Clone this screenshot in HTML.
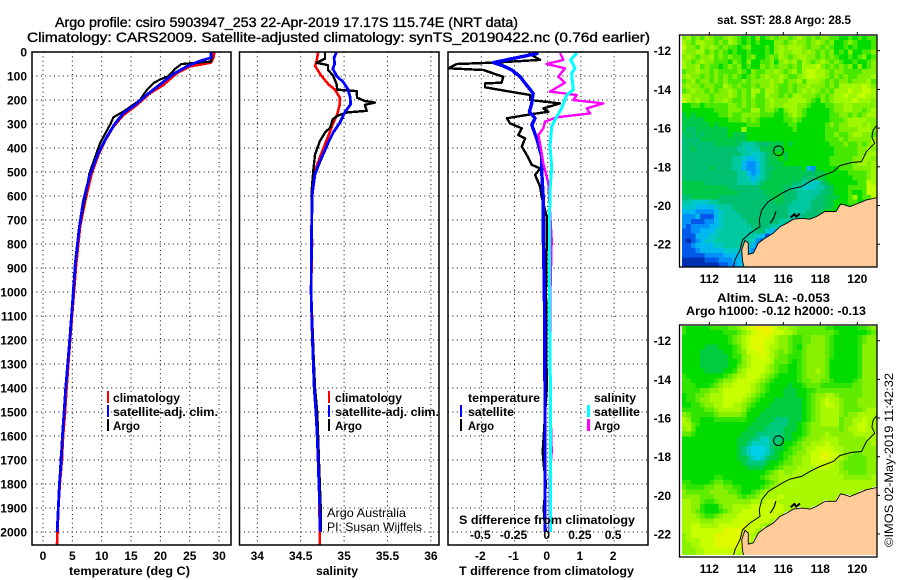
<!DOCTYPE html>
<html>
<head>
<meta charset="utf-8">
<title>Argo profile csiro 5903947_253</title>
<style>
html,body{margin:0;padding:0;background:#fff;}
svg{display:block;}
text{font-family:"Liberation Sans",sans-serif;fill:#000;}
.b{font-weight:bold;font-size:12px;}
.r{font-size:12px;}
.t{font-size:14px;stroke:#000;stroke-width:.35;}
</style>
</head>
<body>
<svg id="chart" xmlns="http://www.w3.org/2000/svg" width="900" height="580" viewBox="0 0 900 580">
  <rect width="900" height="580" fill="#fff"/>
  <defs>
    <clipPath id="clip-sst"><rect x="682" y="36" width="195" height="231"/></clipPath>
    <clipPath id="clip-sla"><rect x="682" y="326" width="195" height="229"/></clipPath>
    <clipPath id="clip-t"><rect x="32" y="52" width="199" height="493"/></clipPath>
    <clipPath id="clip-s"><rect x="239.5" y="52" width="199.5" height="493"/></clipPath>
    <clipPath id="clip-d"><rect x="448" y="52" width="200" height="493"/></clipPath>
  </defs>

  <text class="t" x="55" y="27" textLength="463" lengthAdjust="spacingAndGlyphs">Argo profile: csiro 5903947_253 22-Apr-2019 17.17S 115.74E (NRT data)</text>
  <text class="t" x="27" y="42" textLength="623" lengthAdjust="spacingAndGlyphs">Climatology: CARS2009. Satellite-adjusted climatology: synTS_20190422.nc (0.76d earlier)</text>

  <g id="grid-layer"></g>
  <g id="series-t" clip-path="url(#clip-t)"></g>
  <g id="series-s" clip-path="url(#clip-s)"></g>
  <g id="series-d" clip-path="url(#clip-d)"></g>
  <g id="ticks-layer"></g>

  <rect x="32" y="52" width="199" height="493" fill="none" stroke="#000" stroke-width="1.5"/>
  <rect x="239.5" y="52" width="199.5" height="493" fill="none" stroke="#000" stroke-width="1.5"/>
  <rect x="448" y="52" width="200" height="493" fill="none" stroke="#000" stroke-width="1.5"/>

  <text class="b" x="69" y="575" textLength="121" lengthAdjust="spacingAndGlyphs">temperature (deg C)</text>
  <text class="b" x="316" y="575" textLength="42" lengthAdjust="spacingAndGlyphs">salinity</text>
  <text class="b" x="459" y="575" textLength="175" lengthAdjust="spacingAndGlyphs">T difference from climatology</text>
  <text class="b" x="459" y="524" textLength="176" lengthAdjust="spacingAndGlyphs">S difference from climatology</text>

  <g>
    <rect x="107" y="391" width="2" height="12" fill="#f00"/>
    <text class="b" x="113" y="402" textLength="67" lengthAdjust="spacingAndGlyphs">climatology</text>
    <rect x="107" y="405" width="2" height="12" fill="#00f"/>
    <text class="b" x="113" y="416" textLength="105" lengthAdjust="spacingAndGlyphs">satellite-adj. clim.</text>
    <rect x="107" y="419" width="2" height="12" fill="#000"/>
    <text class="b" x="113" y="430" textLength="27" lengthAdjust="spacingAndGlyphs">Argo</text>
  </g>
  <g>
    <rect x="328" y="391" width="2" height="12" fill="#f00"/>
    <text class="b" x="335" y="402" textLength="67" lengthAdjust="spacingAndGlyphs">climatology</text>
    <rect x="328" y="405" width="2" height="12" fill="#00f"/>
    <text class="b" x="335" y="416" textLength="104" lengthAdjust="spacingAndGlyphs">satellite-adj. clim.</text>
    <rect x="328" y="419" width="2" height="12" fill="#000"/>
    <text class="b" x="335" y="430" textLength="27" lengthAdjust="spacingAndGlyphs">Argo</text>
  </g>
  <text class="r" x="327" y="517" textLength="79" lengthAdjust="spacingAndGlyphs">Argo Australia</text>
  <text class="r" x="327" y="531" textLength="95" lengthAdjust="spacingAndGlyphs">PI: Susan Wijffels</text>

  <g>
    <text class="b" x="468" y="402" textLength="72" lengthAdjust="spacingAndGlyphs">temperature</text>
    <rect x="460" y="405" width="2" height="12" fill="#00f"/>
    <text class="b" x="468" y="416" textLength="46" lengthAdjust="spacingAndGlyphs">satellite</text>
    <rect x="460" y="419" width="2" height="12" fill="#000"/>
    <text class="b" x="468" y="430" textLength="26" lengthAdjust="spacingAndGlyphs">Argo</text>
    <text class="b" x="594" y="402" textLength="42" lengthAdjust="spacingAndGlyphs">salinity</text>
    <rect x="587" y="405" width="3" height="12" fill="#0ff"/>
    <text class="b" x="594" y="416" textLength="46" lengthAdjust="spacingAndGlyphs">satellite</text>
    <rect x="587" y="419" width="3" height="12" fill="#f0f"/>
    <text class="b" x="594" y="430" textLength="26" lengthAdjust="spacingAndGlyphs">Argo</text>
  </g>

  <text class="b" x="717" y="24" textLength="134" lengthAdjust="spacingAndGlyphs">sat. SST: 28.8 Argo: 28.5</text>
  <text class="b" x="717" y="302" textLength="113" lengthAdjust="spacingAndGlyphs">Altim. SLA: -0.053</text>
  <text class="b" x="686" y="315" textLength="180" lengthAdjust="spacingAndGlyphs">Argo h1000: -0.12 h2000: -0.13</text>

  <g id="map-sst"></g>
  <g id="map-sla"></g>

  <text class="r" transform="translate(893,547) rotate(-90)" textLength="174" lengthAdjust="spacingAndGlyphs">©IMOS 02-May-2019 11:42:32</text>
</svg>

<script>
// ---------- profile data ----------
const depthTicks = [0,100,200,300,400,500,600,700,800,900,1000,1100,1200,1300,1400,1500,1600,1700,1800,1900,2000];
const tempTicks = [0,5,10,15,20,25,30];
const salTicks = [34,34.5,35,35.5,36];
const tdiffTicks = [-2,-1,0,1,2];
const sdiffTicks = [-0.5,-0.25,0,0.25,0.5];

const climTDepth = [0,26,44,60,88,137,172,220,262,311,367,430,505,617,728,894,990,1200,1400,1500,1600,1700,1800,1900,2000,2053];
const climTValue = [29.2,29.0,28.6,25,22.8,20.5,18.2,16,13.7,12,10.6,9.4,8.3,7.2,6.3,5.6,5.3,4.6,4.0,3.75,3.4,3.2,2.85,2.6,2.45,2.4];
const argoTDepth = [0,20,40,45,50,70,100,115,130,158,200,220,248,272,304,340,382,437,506,603,728,880,990,1200,1400,1500,1600,1700,1800,1900,2000];
const argoTValue = [28.5,28.8,28.6,26.2,23.6,22.5,21.4,19.9,18.8,17.7,16.5,15.4,13.7,12,11.4,10.6,9.7,8.9,7.9,7.2,6.2,5.5,5.2,4.55,3.9,3.6,3.3,3.0,2.8,2.6,2.4];
const satTDepth = [2,24,38,60,92,136,178,220,255,297,352,422,512,617,728,880,990,1200,1400,1500,1600,1700,1800,1900,2000];
const satTValue = [28.6,28.6,26.7,24.5,22.2,19.9,17.7,15.7,13.7,12.3,10.9,9.4,8,6.9,6.2,5.5,5.2,4.55,3.87,3.6,3.3,3.1,2.8,2.6,2.4];

const climSDepth = [2,45,58,100,135,157,190,218,260,300,330,385,440,495,565,610,800,1000,1200,1400,1500,1600,1700,1800,1900,2000,2053];
const climSValue = [34.70,34.68,34.665,34.74,34.82,34.895,34.95,34.95,34.92,34.87,34.84,34.78,34.72,34.665,34.63,34.625,34.63,34.62,34.64,34.655,34.68,34.69,34.70,34.71,34.715,34.72,34.72];
const argoSDepth = [2,28,45,55,74,100,135,157,163,190,204,211,220,245,252,265,280,315,336,372,428,495,582,800,1000,1200,1400,1500,1600,1700,1800,1900,2000];
const argoSValue = [34.78,34.78,34.685,34.815,34.815,34.875,34.915,34.92,35.145,35.15,35.24,35.355,35.24,35.26,35.03,34.93,34.87,34.84,34.78,34.72,34.665,34.645,34.625,34.625,34.62,34.64,34.665,34.69,34.70,34.71,34.72,34.73,34.73];
const satSDepth = [2,24,50,70,100,125,155,190,218,250,295,335,375,458,510,585,700,1000,1200,1400,1500,1600,1700,1800,1900,2000];
const satSValue = [34.91,34.885,34.89,34.87,34.915,34.99,35.045,35.07,35.075,35.01,34.95,34.875,34.82,34.72,34.665,34.635,34.627,34.62,34.635,34.655,34.675,34.69,34.70,34.71,34.72,34.725];

const satTdDepth = [5,44,58,75,103,130,172,214,249,276,304,360,436,498,617,783,1000,1400,1700,2000];
const satTdValue = [-0.28,-1.64,-1.34,-1.08,-0.83,-0.68,-0.44,-0.48,-0.55,-0.38,-0.48,-0.33,-0.18,-0.18,-0.13,-0.13,-0.1,-0.08,-0.08,-0.08];
const argoTdDepth = [5,33,44,50,68,75,103,128,131,147,165,179,200,214,235,249,258,276,297,318,346,360,394,429,470,485,512,561,603,686,783,1000,1400,1600,1665,1720,1800,1900,1950,2000];
const argoTdValue = [-0.58,-0.23,-1.59,-2.74,-2.99,-1.94,-1.34,-1.39,-1.89,-1.89,-1.14,-0.53,-0.53,0.37,-0.13,0.02,-0.43,-1.23,-1.14,-0.78,-0.89,-0.68,-0.78,-0.63,-0.48,-0.23,-0.38,-0.23,-0.18,-0.03,-0.03,-0.05,-0.03,-0.12,-0.15,-0.12,-0.05,-0.12,-0.1,-0.05];
const argoSdDepth = [5,33,50,68,103,128,165,179,200,214,235,256,272,290,318,346,380,464,547,783,1000,1400,1665,1750,2000];
const argoSdValue = [0.093,0.118,-0.008,0.13,0.08,0.13,0.017,0.218,0.193,0.419,0.294,0.319,0.068,-0.02,-0.033,-0.07,-0.058,-0.033,0.005,0.03,0.02,0.017,0.03,0.017,0.012];
const satSdDepth = [5,33,68,89,158,179,235,283,311,394,478,575,783,1000,1400,1750,2000];
const satSdValue = [0.218,0.173,0.206,0.18,0.193,0.143,0.105,0.055,0.03,0.017,0.03,0.017,0.012,0.012,0.02,0.02,0.02];

// ---------- map data (one character per 0.25 degree cell, palette index) ----------
const sstRows = [
"ab9a9ba99aba9898a89a9a a9aba9a9aa99889898999",
"ba9bbaa9a9ba98989888aa 9abaa9aba9a889a98889a",
"caa9baba9a9989a88898ab abbba9aa9a9889898889a",
"baabb9a9a98988988898ab aabbaba9a9a898a8899ab",
"aba9aab9a9a9989a889a9b a9abbaa9a9a988989a89a",
"ba9abaa9998a98a8899a8a bab9ba9aba9a9889889ab",
"baab9a9989a9a8988a9a9a a9a9bbbca9a9a9a8a89ab",
"9aabaa9a9999a98a99aaba 9ab9bccbba9aa9999aaab",
"abaa9a9a9a9a989a9abaab a99abccbba9a9a99aaaba",
"9ab9aa9a9a999a9aaaabab 9aab9bbba9a9aa9aaab9a",
"abaa9aa99ba9a99a9aaba9 9a9aabaaa9a9bbbbbcbaa",
"9abaa9a9aaba9a9bb9bba9 9a9ababa9a9bbbcbbccbb",
"bbaaaa9aaaba9a9b99baa9 a9bbaaa9a9abbcbbccbba",
"cbabaa9aaba99a9a99abaa abbbba98a9abbbbcbbbab",
"8899899999aa9a9a99abaa bbbaa988899aabbaaaaab",
"8888888999aaa99bb9aa98 abba9888889aabbaa9abb",
"7878888899a99aaaa99988 9aba98888899aa9a9abbb",
"7777788888999a9a988888 99a9888888999abbbbaab",
"7777778788888899988888 8998888889a9aabbbabab",
"7667777777888b88888888 889888888999aaaabbbab",
"6767677777877788888888 88888888899a99abbaa9a",
"6666777777777788888888 888888888999a9aaaaabb",
"6666666777776555666777 8788888888999a99a9abb",
"6676666666665545577777 8888888888899999aabab",
"6666666666666554456788 7888888888899999aabbb",
"6666666666655433456778 788888888899999aabbab",
"6666666666655322356777 888888888899999abbabb",
"6666667666655322356677 777783288888999aaaabb",
"6666666666665532356777 777776677888889999abb",
"6666666666665543456777 777766677888888999abb",
"7777766666665554567777 776655446788888899cbb",
"7777777777666666677777 665544455678889999ccb",
"7777777777776666667777 666555556678889889ccb",
"6677777766666666666777 666555566777889b899ca",
"5544445566666666666677 665555666778889988888",
"4443333455566666666666 655555666778888888888",
"3332222345556666666666 655556667888888888888",
"2223111345555666666666 655566667888888888888",
"2211122345555566666665 555566678888888888888",
"2122223345555556666554 555666888888888888888",
"1122333455555555664333 555668888888888888888",
"1113334455555555431222 888888888888888888888",
"1012344555555554211223 888888888888888888888",
"1123333445555543201123 888888888888888888888",
"1112333334444432001288 888888888888888888888",
"1111122223333432001888 888888888888888888888",
"0000011122233322218888 888888888888888888888",
"0000000011223322888888 888888888888888888888"
];
const sstPalette = {"0":"#0030b0","1":"#0058e8","2":"#0090f8","3":"#00b8f0","4":"#00c8c8","5":"#00c8a0","6":"#00c070","7":"#00c848","8":"#00dc00","9":"#48e800","a":"#80f000","b":"#a0f800","c":"#c0ff00"};

const slaRows = [
"5444445555667 89abbba98 877666666554444455677",
"544444444555678 9aaba998 876666666654444445667",
"44444444445678 9aaaa987 765566777654444456777",
"44444444445678 9aaa9987 765566777654444456777",
"4444433344456 89aaa9887 765467777654444457776",
"44443333344567 99aa9876 765567777654444457776",
"44443333334557 899a9876 655567777654444457776",
"44443333334457 89999866 654567777644444457776",
"44443333334467 89998765 544567777644444457776",
"44444333344578 99998765 544567787644444457776",
"54444444456788 99987654 444567777644444457777",
"55444445677899 99876544 444566776654444567777",
"55544456788999 98765444 434456665555555667777",
"55556677899999 98765444 333445566666666667777",
"45566788899999 87654444 333445677887666667777",
"45567788899998 76544433 333345678988766677777",
"44556778899887 65444333 333345678998766677777",
"55555667888887 54443333 333345678888766667887",
"76555556777776 44433333 333345678888767788887",
"87554445555555 44333322 233345678888677889887",
"88654444444444 43333222 233456778888677899887",
"78644444444444 33332222 333456777777678899888",
"66544444444443 33222222 334456777877777888888",
"44444444444433 32211222 334567778888777777888",
"44444444444433 21111223 445677888988777777788",
"44444444444432 10001233 456678899998877777778",
"44444444444432 10001234 556778 9 9 aa 9 9 8776677 78",
"44444444444433 21012334 567788 9 9 aa 9 9 8766667 78",
"44444444444443 22223445 667788 99999 8766666 778",
"44444444444444 33334456 777888 8 999 8876666 6778",
"44444444444444 44445678 778888 8888 88 776666 778",
"44444445544444 44456778 888888 8888 888 77777 788",
"55444456655444 44445678 888888 88888888888888 8",
"65555667766554 44456788 888888 888888888888888",
"76666677776654 45678888 888888 888888888888888",
"77776667777765 66788889 888888 888888888888888",
"88776556777777 78889998 888888 888888888888888",
"88775444677888 89999999 888888 888888888888888",
"88765444567889 99999999 888888 888888888888888",
"88876556788899 99999998 888888 888888888888888",
"88887778888999 99999887 888888 888888888888888",
"88998888999 99a99987665 888888 888888888888888",
"889999999aaaaa 99876554 888888 888888888888888",
"7899999aaaaaaa 98765444 888888 888888888888888",
"7888999aaaaaaa 9865444 8888888 888888888888888",
"7788999aaaaaa9 8654448 8888888 888888888888888",
"7778899999999 888888888 888888 888888888888888",
"777889999999 8888888888 888888 888888888888888"
];
const slaPalette = {"0":"#00d0e8","1":"#00ccc0","2":"#00c87c","3":"#00cc40","4":"#00dc00","5":"#30e400","6":"#60ec00","7":"#88f000","8":"#a8f800","9":"#c8ff00","a":"#e0f800","b":"#f0f000"};

const coastLon = [121.08,120.50,119.96,119.60,119.33,119.10,118.85,118.25,117.80,117.44,116.99,116.54,116.18,115.82,115.46,115.01,114.65,114.38,114.11,114.11,113.93,113.75,113.80,113.87];
const coastLat = [-19.59,-19.71,-19.92,-20.06,-19.97,-19.92,-20.31,-20.31,-20.57,-20.71,-20.66,-20.71,-20.92,-21.09,-21.43,-21.69,-21.95,-22.46,-22.52,-21.95,-21.81,-22.29,-22.89,-23.15];
const shelfLon = [121.08,120.86,120.79,120.94,120.50,120.23,119.69,119.06,118.70,117.98,117.44,116.99,116.36,116.00,115.55,115.19,114.83,114.70,114.74,114.20,113.80,113.66,113.39,113.30];
const shelfLat = [-15.84,-16.10,-16.47,-16.78,-17.21,-17.73,-17.78,-17.94,-18.25,-18.51,-18.76,-19.02,-19.16,-19.33,-19.59,-19.80,-20.23,-20.74,-21.09,-21.43,-21.78,-22.29,-22.81,-23.15];
const islandLon = [116.4,116.6,116.7,116.9];
const islandLat = [-20.62,-20.45,-20.58,-20.42];
const islandBLon = [115.3,115.5,115.6];
const islandBLat = [-20.92,-20.62,-20.3];
const mapLonTicks = [112,114,116,118,120];
const mapLatTicks = [-12,-14,-16,-18,-20,-22];
const argoLon = 115.74;
const argoLat = -17.17;

// ---------- axis functions ----------
const depthY = d => 52 + 0.24 * d;
const tempX = t => 43 + 5.87 * t;
const salX = s => 257.3 + 86.8 * (s - 34);
const tdiffX = v => 547.7 + 33.2 * v;
const sdiffX = v => 547.7 + 132.8 * v;
const lonX = lon => 709.3 + 18.5 * (lon - 112);
const sstY = lat => 50.7 + 19.35 * (-12 - lat);
const slaY = lat => 340.7 + 19.33 * (-12 - lat);

const NS = "http://www.w3.org/2000/svg";
function mk(tag, parent, attrs) {
  const el = document.createElementNS(NS, tag);
  for (const k in attrs) el.setAttribute(k, attrs[k]);
  parent.appendChild(el);
  return el;
}

// ---------- grid ----------
const gridLayer = document.getElementById("grid-layer");
function gridV(xs, top, bottom) {
  xs.forEach(x => {
    const el = mk("line", gridLayer, {x1:x, x2:x, y1:top, y2:bottom, stroke:"#000", "stroke-width":1, "stroke-dasharray":"1 3.4"});
    
    
  });
}
function gridH(left, right) {
  depthTicks.forEach(d => {
    const el = mk("line", gridLayer, {x1:left, x2:right, y1:depthY(d), y2:depthY(d), stroke:"#000", "stroke-width":1, "stroke-dasharray":"1 3.4"});
    
    
  });
}
gridV(tempTicks.map(tempX), 52, 545); gridH(32, 231);
gridV(salTicks.map(salX), 52, 545); gridH(239.5, 439);
gridV(tdiffTicks.map(tdiffX), 52, 545); gridH(448, 648);

// ---------- series ----------
function series(groupId, xf, depths, values, color, width) {
  const pts = values.map((v, i) => xf(v).toFixed(1) + "," + depthY(depths[i]).toFixed(1)).join(" ");
  const el = mk("polyline", document.getElementById(groupId), {points:pts, fill:"none", stroke:color, "stroke-width":width, "stroke-linejoin":"round", "shape-rendering":"crispEdges"});
  
  
}
series("series-t", tempX, climTDepth, climTValue, "#f00", 2.8);
series("series-t", tempX, argoTDepth, argoTValue, "#000", 2.2);
series("series-t", tempX, satTDepth, satTValue, "#00f", 2.8);

series("series-s", salX, climSDepth, climSValue, "#f00", 2.6);
series("series-s", salX, argoSDepth, argoSValue, "#000", 2.4);
series("series-s", salX, satSDepth, satSValue, "#00f", 2.8);

series("series-d", tdiffX, argoTdDepth, argoTdValue, "#000", 2.4);
series("series-d", tdiffX, satTdDepth, satTdValue, "#00f", 3.4);
series("series-d", sdiffX, argoSdDepth, argoSdValue, "#f0f", 2.4);
series("series-d", sdiffX, satSdDepth, satSdValue, "#0ff", 3);

// ---------- tick labels ----------
const ticksLayer = document.getElementById("ticks-layer");
function label(txt, x, y, anchor, parent) {
  const el = mk("text", parent || ticksLayer, {x:x, y:y, "text-anchor":anchor, "class":"b"});
  el.textContent = txt;
  
  
}
depthTicks.forEach(d => label(String(d), 27, depthY(d) + 4.5, "end"));
tempTicks.forEach(t => label(String(t), tempX(t), 560, "middle"));
salTicks.forEach(s => label(String(s), salX(s), 560, "middle"));
tdiffTicks.forEach(v => label(String(v), tdiffX(v) - 1, 560, "middle"));
sdiffTicks.forEach(v => label(String(v), sdiffX(v) - 1, 539, "middle"));

// ---------- maps ----------
function drawMap(groupId, rows, palette, yf, clipId, tickLabelY, whiteEdge) {
  const g = document.getElementById(groupId);
  const cells = mk("g", g, {"clip-path":"url(#" + clipId + ")", "shape-rendering":"crispEdges"});
  
  
  rows.forEach((rawRow, r) => {
    const row = rawRow.replace(/ /g, "");
    for (let c = 0; c < 43; c++) {
      const key = row[Math.min(c, row.length - 1)];
      const lonW = 110.5 + c * 0.25;
      const latN = -11.2 - r * 0.25;
      const y0 = yf(latN), y1 = yf(latN - 0.25);
      const cell = mk("rect", cells, {x:lonX(lonW).toFixed(1), y:y0.toFixed(1), width:(0.25 * 18.5 + 0.4).toFixed(2), height:(y1 - y0 + 0.4).toFixed(2), fill:palette[key]});
      
      
    }
  });
  const overlay = mk("g", g, {"clip-path":"url(#" + clipId + ")"});
  
  
  if (whiteEdge) {
    const edge = mk("polyline", overlay, {points:coastLon.slice(0, 18).map((lon, i) => lonX(lon).toFixed(1) + "," + (yf(coastLat[i]) - 0.8).toFixed(1)).join(" "), fill:"none", stroke:"#fff", "stroke-width":1, "stroke-dasharray":"5 9"});
    
    
  }
  const landPts = coastLon.map((lon, i) => lonX(lon).toFixed(1) + "," + yf(coastLat[i]).toFixed(1));
  landPts.push(lonX(121.2).toFixed(1) + "," + yf(-23.2).toFixed(1));
  landPts.push(lonX(121.2).toFixed(1) + "," + yf(-19.59).toFixed(1));
  const land = mk("polygon", overlay, {points:landPts.join(" "), fill:"#ffcc99", stroke:"none"});
  
  
  const line = (lons, lats, w) => {
    const el = mk("polyline", overlay, {points:lons.map((lon, i) => lonX(lon).toFixed(1) + "," + yf(lats[i]).toFixed(1)).join(" "), fill:"none", stroke:"#000", "stroke-width":w});
    
    
  };
  line(coastLon, coastLat, 0.9);
  line(shelfLon, shelfLat, 1);
  line(islandLon, islandLat, 2);
  line(islandBLon, islandBLat, 1.2);
  const marker = mk("circle", overlay, {cx:lonX(argoLon), cy:yf(argoLat), r:4.9, fill:"none", stroke:"#000", "stroke-width":1});
  
  
  const top = clipId === "clip-sst" ? 35 : 325;
  const frame = mk("rect", g, {x:679.5, y:top, width:197.5, height:232, fill:"none", stroke:"#000", "stroke-width":1.3});
  
  
  mapLonTicks.forEach(lon => {
    const t = mk("line", g, {x1:lonX(lon), x2:lonX(lon), y1:top - 3, y2:top, stroke:"#000", "stroke-width":1});
    
    
    label(String(lon), lonX(lon), tickLabelY, "middle", g);
  });
  mapLatTicks.forEach(lat => {
    const t = mk("line", g, {x1:877, x2:880, y1:yf(lat), y2:yf(lat), stroke:"#000", "stroke-width":1});
    
    
    label(String(lat), 671, yf(lat) + 4.5, "end", g);
  });
}
drawMap("map-sst", sstRows, sstPalette, sstY, "clip-sst", 283, false);
drawMap("map-sla", slaRows, slaPalette, slaY, "clip-sla", 573, true);
</script>
</body>
</html>
